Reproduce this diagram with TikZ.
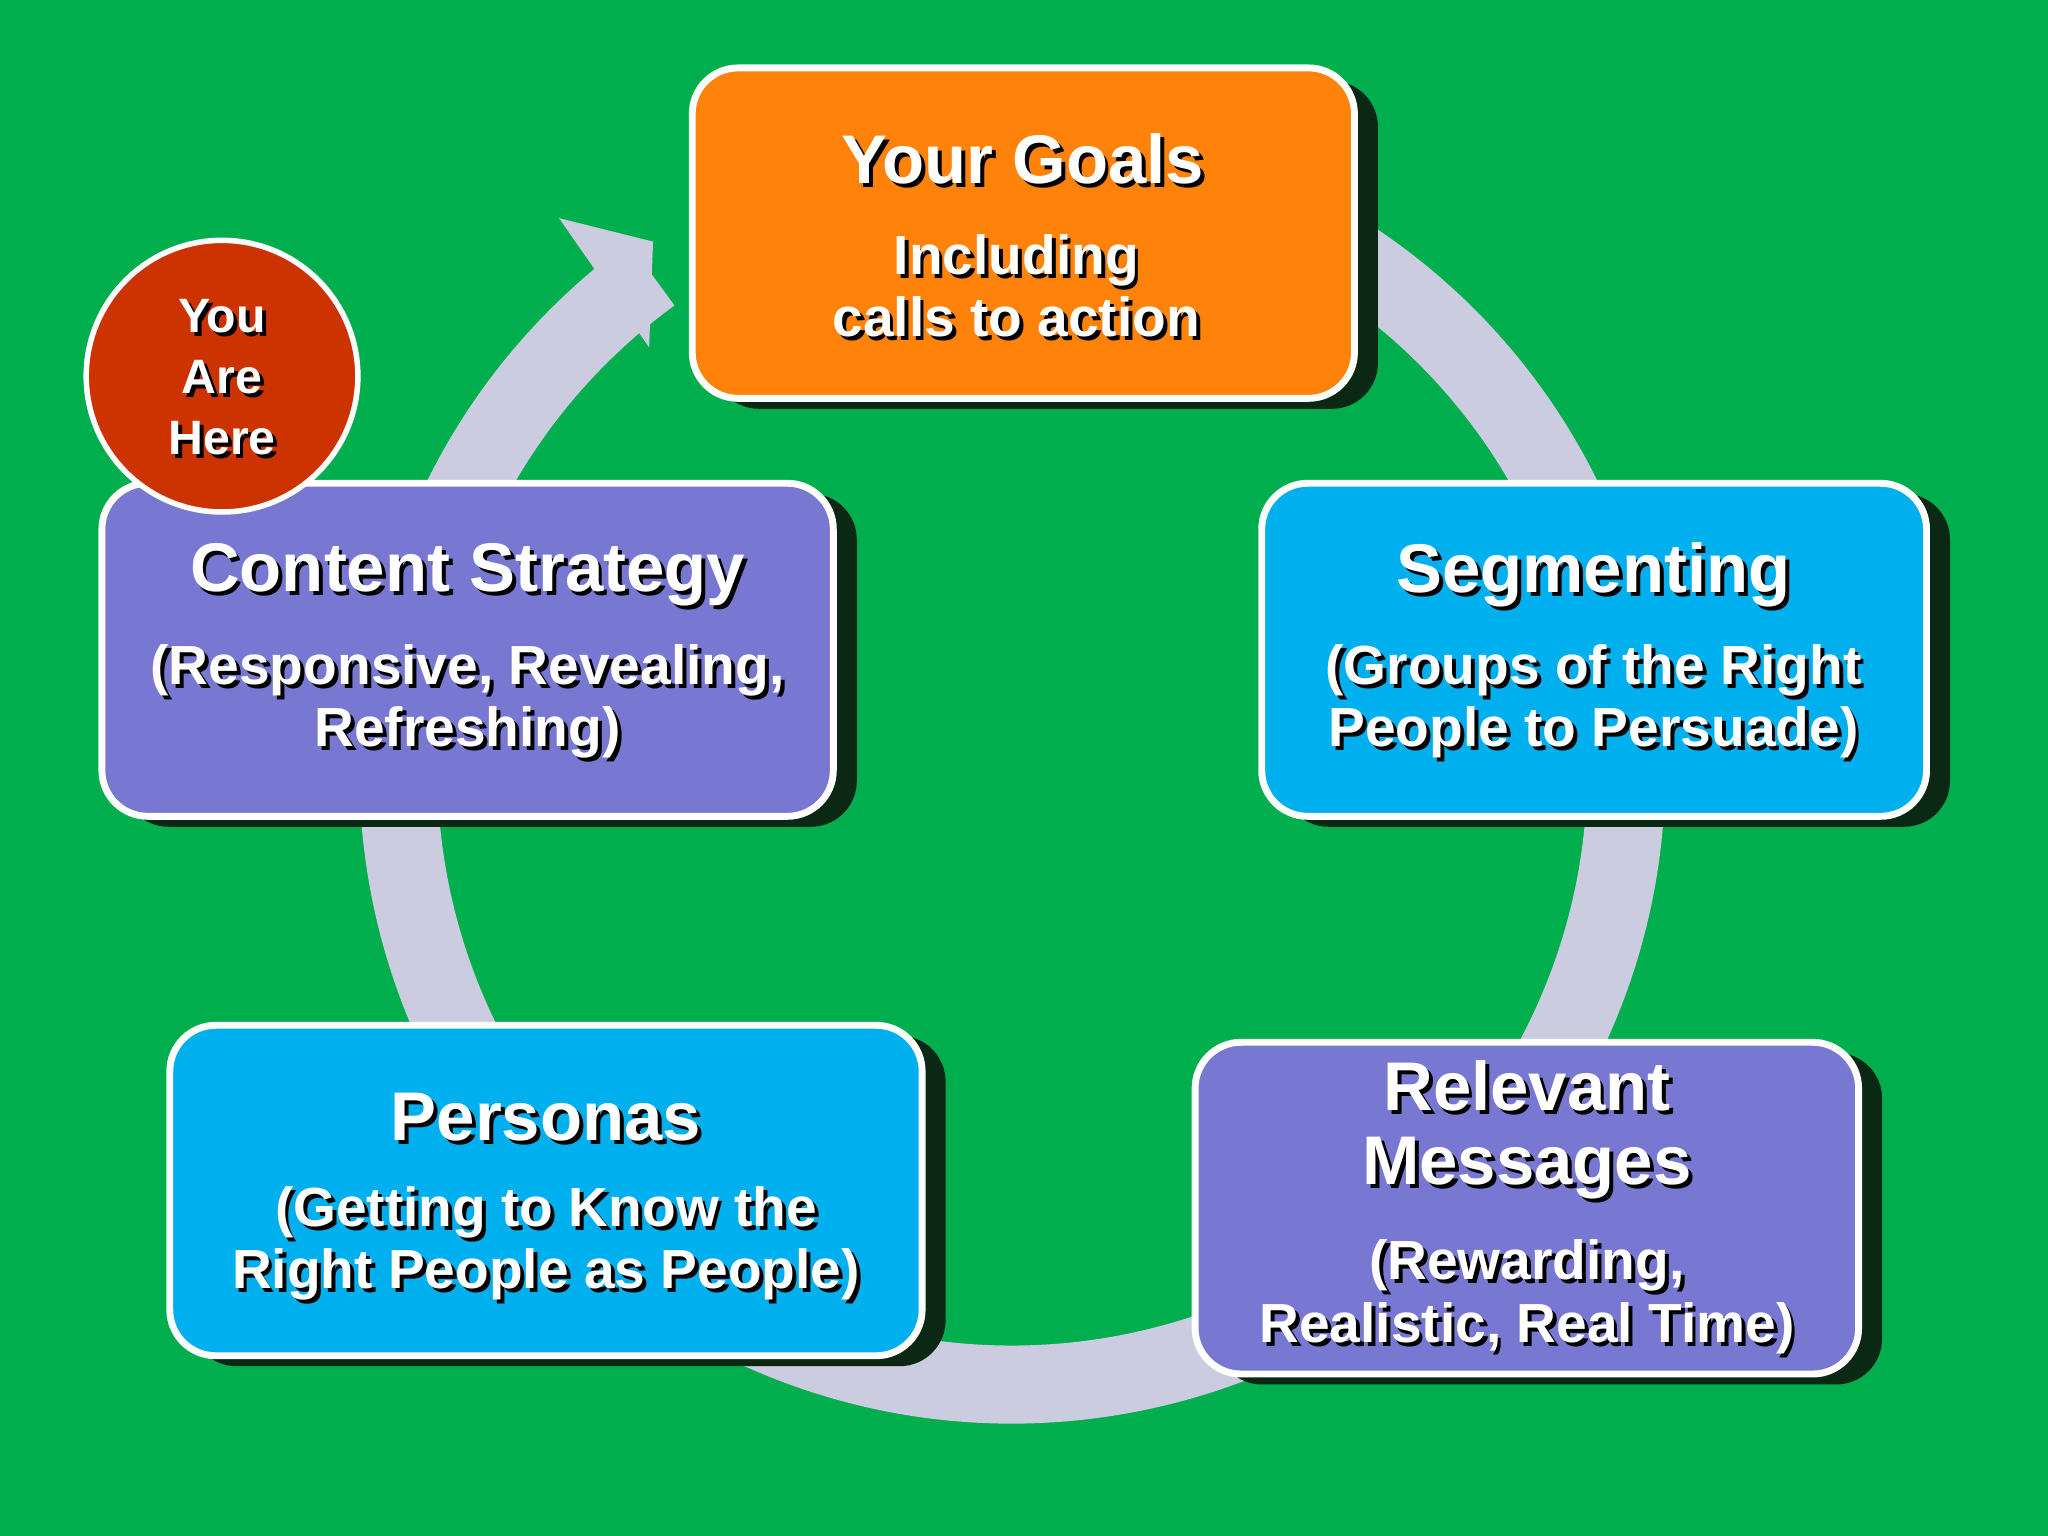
\documentclass[tikz,border=0pt]{standalone}
\usepackage{fontspec}
\setmainfont{Liberation Sans}
\definecolor{bg}{RGB}{0,174,78}
\definecolor{ring}{RGB}{204,204,224}
\definecolor{org}{RGB}{255,130,10}
\definecolor{pur}{RGB}{120,120,210}
\definecolor{cya}{RGB}{0,176,238}
\definecolor{red1}{RGB}{204,51,0}
\definecolor{shd}{RGB}{10,40,20}
\newcommand\sht[4]{%
 \node[txt,text=black,font={\bfseries#2}] at ([shift={(3,3)}]#1) {#3};
 \node[txt,font={\bfseries#2}] (#4) at (#1) {#3};}
\begin{document}
\begin{tikzpicture}[x=0.01cm,y=-0.01cm,
 box/.style={draw=white,line width=1.5pt,rounded corners=10pt},
 shadow/.style={fill=shd,rounded corners=10pt},
 txt/.style={text=white,align=center,inner sep=0}]
\fill[bg] (0,0) rectangle (1568,1176);
\useasboundingbox (0,0) rectangle (1568,1176);
% ring
\coordinate (c) at (775,590);
\draw[ring,line width=17pt] ([shift={(300:470)}]c) arc[start angle=300,end angle=594,radius=470];
\fill[ring] (428,167) -- (500,185) -- (497,266) -- cycle;
% boxes
\fill[shadow] (546,62) rectangle (1055,313);
\draw[box,fill=org] (530,52) rectangle (1037,305);
\fill[shadow] (94,378) rectangle (656,633);
\draw[box,fill=pur] (78,370) rectangle (638,625);
\fill[shadow] (982,378) rectangle (1493,633);
\draw[box,fill=cya] (966,370) rectangle (1475,625);
\fill[shadow] (146,793) rectangle (724,1046);
\draw[box,fill=cya] (130,785) rectangle (706,1038);
\fill[shadow] (931,806) rectangle (1441,1060);
\draw[box,fill=pur] (915,798) rectangle (1423,1052);
\draw[draw=white,line width=1.2pt,fill=red1] (170,288) circle (104);
% texts
\sht{783,122}{\fontsize{15}{17}\selectfont}{Your Goals}{t1}
\sht{778,219}{\fontsize{12}{13.6}\selectfont}{Including\\calls to action}{t2}
\sht{170,289}{\fontsize{10.5}{13.3}\selectfont}{You\\Are\\Here}{t3}
\sht{358,440}{\fontsize{15}{17}\selectfont}{Content Strategy}{t4}
\sht{358,537}{\fontsize{12}{13.6}\selectfont}{(Responsive, Revealing,\\Refreshing)}{t5}
\sht{1220,440}{\fontsize{15}{17}\selectfont}{Segmenting}{t6}
\sht{1220,537}{\fontsize{12}{13.6}\selectfont}{(Groups of the Right\\People to Persuade)}{t7}
\sht{418,855}{\fontsize{15}{17}\selectfont}{Personas}{t8}
\sht{418,952}{\fontsize{12}{13.6}\selectfont}{(Getting to Know the\\Right People as People)}{t9}
\sht{1169,865}{\fontsize{15}{16}\selectfont}{Relevant\\Messages}{t10}
\sht{1169,993}{\fontsize{12}{13.6}\selectfont}{(Rewarding,\\Realistic, Real Time)}{t11}
\end{tikzpicture}
\end{document}
